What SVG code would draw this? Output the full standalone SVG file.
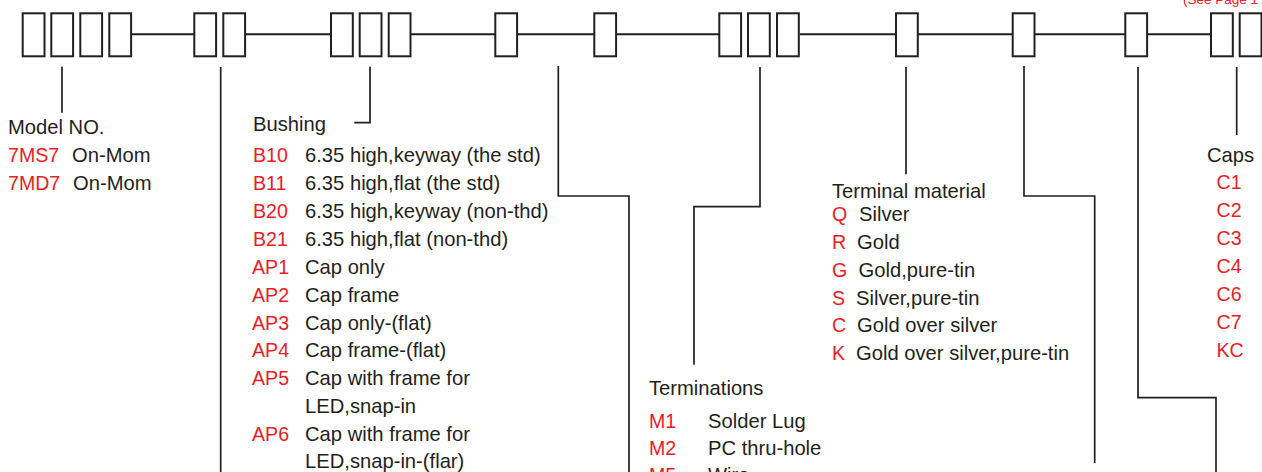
<svg xmlns="http://www.w3.org/2000/svg" width="1262" height="472" viewBox="0 0 1262 472">
<style>
.box{fill:#fff;stroke:#231f20;stroke-width:2}
.ln{fill:none;stroke:#231f20;stroke-width:1.7}
.sp{fill:none;stroke:#231f20;stroke-width:2}
text{font-family:"Liberation Sans",Arial,sans-serif;font-size:20.2px;fill:#231f20}
text.r{fill:#ed1c24;font-size:19.6px}
text.s{font-size:13.5px}
</style>
<rect width="1262" height="472" fill="#fff"/>
<g id="connectors">
<path class="sp" d="M132 34.300H194M245 34.300H331M411 34.300H495M518 34.300H594M617 34.300H719M800 34.300H896M918 34.300H1013M1035 34.300H1125M1147 34.300H1211"/>
<path class="ln" d="M62 66.700V112.700"/>
<path class="ln" d="M220.700 67V472"/>
<path class="ln" d="M370 66.700V122.700H354.300"/>
<path class="ln" d="M558.300 66V196H629V472"/>
<path class="ln" d="M760 67V206.700H694V364.700"/>
<path class="ln" d="M906 67V174.300"/>
<path class="ln" d="M1024 66V196H1094.700V463"/>
<path class="ln" d="M1138 67V397.700H1216V472"/>
<path class="ln" d="M1236.700 67V135"/>
</g>
<g id="boxes">
<rect class="box" x="22.700" y="13.300" width="21.800" height="43"/>
<rect class="box" x="51.300" y="13.300" width="21.800" height="43"/>
<rect class="box" x="80.300" y="13.300" width="21.800" height="43"/>
<rect class="box" x="109.300" y="13.300" width="21.800" height="43"/>
<rect class="box" x="194.300" y="13.300" width="21.800" height="43"/>
<rect class="box" x="223.300" y="13.300" width="21.800" height="43"/>
<rect class="box" x="331" y="13.300" width="21.800" height="43"/>
<rect class="box" x="359.700" y="13.300" width="21.800" height="43"/>
<rect class="box" x="388.700" y="13.300" width="21.800" height="43"/>
<rect class="box" x="495.300" y="13.300" width="21.800" height="43"/>
<rect class="box" x="594.300" y="13.300" width="21.800" height="43"/>
<rect class="box" x="719.300" y="13.300" width="21.800" height="43"/>
<rect class="box" x="748" y="13.300" width="21.800" height="43"/>
<rect class="box" x="777" y="13.300" width="21.800" height="43"/>
<rect class="box" x="896" y="13.300" width="21.800" height="43"/>
<rect class="box" x="1012.700" y="13.300" width="21.800" height="43"/>
<rect class="box" x="1125.300" y="13.300" width="21.800" height="43"/>
<rect class="box" x="1211" y="13.300" width="21.800" height="43"/>
<rect class="box" x="1239.700" y="13.300" width="21.800" height="43"/>
</g>
<g id="model">
<text x="8" y="134">Model NO.</text>
<text class="r" x="8" y="162">7MS7</text><text x="72" y="162">On-Mom</text>
<text class="r" x="8" y="189.500">7MD7</text><text x="73" y="189.500">On-Mom</text>
</g>
<g id="bushing">
<text x="253" y="131">Bushing</text>
<text class="r" x="253" y="162">B10</text><text x="305" y="162">6.35 high,keyway (the std)</text>
<text class="r" x="253" y="189.500">B11</text><text x="305" y="189.500">6.35 high,flat (the std)</text>
<text class="r" x="253" y="217.500">B20</text><text x="305" y="217.500">6.35 high,keyway (non-thd)</text>
<text class="r" x="253" y="245.500">B21</text><text x="305" y="245.500">6.35 high,flat (non-thd)</text>
<text class="r" x="252" y="273.500">AP1</text><text x="305" y="273.500">Cap only</text>
<text class="r" x="252" y="301.500">AP2</text><text x="305" y="301.500">Cap frame</text>
<text class="r" x="252" y="330">AP3</text><text x="305" y="330">Cap only-(flat)</text>
<text class="r" x="252" y="357">AP4</text><text x="305" y="357">Cap frame-(flat)</text>
<text class="r" x="252" y="385">AP5</text><text x="305" y="385">Cap with frame for</text>
<text x="305" y="412.700">LED,snap-in</text>
<text class="r" x="252" y="440.700">AP6</text><text x="305" y="440.700">Cap with frame for</text>
<text x="305" y="468.300">LED,snap-in-(flar)</text>
</g>
<g id="terminations">
<text x="649" y="394.500">Terminations</text>
<text class="r" x="649" y="428">M1</text><text x="708" y="428">Solder Lug</text>
<text class="r" x="649" y="454.700">M2</text><text x="708" y="454.700">PC thru-hole</text>
<text class="r" x="649" y="482">M5</text><text x="708" y="482">Wire</text>
</g>
<g id="terminal-material">
<text x="832" y="197.700">Terminal material</text>
<text class="r" x="832" y="220.700">Q</text><text x="859" y="220.700">Silver</text>
<text class="r" x="832" y="249">R</text><text x="857" y="249">Gold</text>
<text class="r" x="832" y="276.700">G</text><text x="858.500" y="276.700">Gold,pure-tin</text>
<text class="r" x="832" y="305">S</text><text x="856" y="305">Silver,pure-tin</text>
<text class="r" x="832" y="332">C</text><text x="857" y="332">Gold over silver</text>
<text class="r" x="832" y="360">K</text><text x="856" y="360">Gold over silver,pure-tin</text>
</g>
<g id="caps">
<text x="1207" y="161.700">Caps</text>
<text class="r" x="1216.500" y="189">C1</text>
<text class="r" x="1216.500" y="217">C2</text>
<text class="r" x="1216.500" y="245.300">C3</text>
<text class="r" x="1216.500" y="272.700">C4</text>
<text class="r" x="1216.500" y="300.700">C6</text>
<text class="r" x="1216.500" y="329">C7</text>
<text class="r" x="1216.500" y="356.700">KC</text>
</g>
<text class="r s" x="1183" y="3.500" style="font-size:13.5px">(See Page 1</text>
</svg>
